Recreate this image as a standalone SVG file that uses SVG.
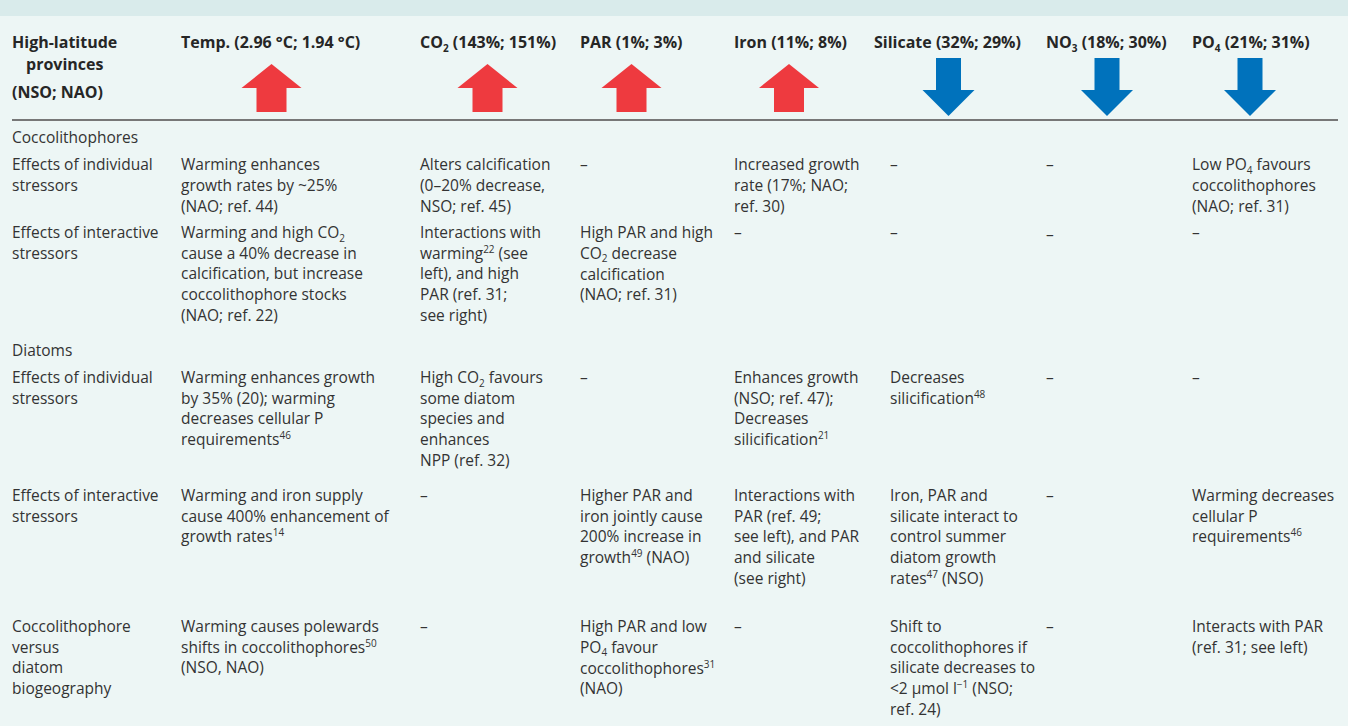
<svg xmlns="http://www.w3.org/2000/svg" width="1348" height="726" viewBox="0 0 1348 726">
<style>
text{font-family:"Open Sans","Liberation Sans",sans-serif;font-size:15.5px;fill:#333}
.h{font-weight:bold;fill:#262626;font-size:16px}
.s{font-size:10px}
.up{fill:#ee3a3f}
.dn{fill:#0072bc}
</style>
<rect x="0" y="0" width="1348" height="726" fill="#edf6f5"/>
<rect x="0" y="0" width="1348" height="16" fill="#d9ebeb"/>
<g id="header">
<text class="h" x="12" y="48">High-latitude</text>
<text class="h" x="26" y="70">provinces</text>
<text class="h" x="12" y="98">(NSO; NAO)</text>
<text class="h" x="181" y="48">Temp. (2.96 °C; 1.94 °C)</text>
<text class="h" x="420" y="48">CO<tspan class="s" dy="3.5">2</tspan><tspan dy="-3.5"> (143%; 151%)</tspan></text>
<text class="h" x="580" y="48">PAR (1%; 3%)</text>
<text class="h" x="734" y="48">Iron (11%; 8%)</text>
<text class="h" x="874" y="48">Silicate (32%; 29%)</text>
<text class="h" x="1046" y="48">NO<tspan class="s" dy="3.5">3</tspan><tspan dy="-3.5"> (18%; 30%)</tspan></text>
<text class="h" x="1192" y="48">PO<tspan class="s" dy="3.5">4</tspan><tspan dy="-3.5"> (21%; 31%)</tspan></text>
</g>
<g id="arrows">
<defs>
<path id="ua" d="M0,0 L30,24 L15,24 L15,48 L-15,48 L-15,24 L-30,24 Z"/>
<path id="da" d="M-12.5,0 L12.5,0 L12.5,32 L26,32 L0,58 L-26,32 L-12.5,32 Z"/>
</defs>
<use href="#ua" class="up" x="271.5" y="64"/>
<use href="#ua" class="up" x="487.5" y="64"/>
<use href="#ua" class="up" x="631.5" y="64"/>
<use href="#ua" class="up" x="789" y="64"/>
<use href="#da" class="dn" x="948.5" y="58"/>
<use href="#da" class="dn" x="1107" y="58"/>
<use href="#da" class="dn" x="1250" y="58"/>
</g>
<line x1="12" y1="120" x2="1338" y2="120" stroke="#777" stroke-width="2"/>

<g id="coccolithophores">
<text x="12" y="143">Coccolithophores</text>
<g id="c-individual">
<text x="12" y="170">Effects of individual</text><text x="12" y="191">stressors</text>
<text x="181" y="170">Warming enhances</text><text x="181" y="191">growth rates by ~25%</text><text x="181" y="212">(NAO; ref. 44)</text>
<text x="420" y="170">Alters calcification</text><text x="420" y="191">(0–20% decrease,</text><text x="420" y="212">NSO; ref. 45)</text>
<text x="580" y="170">–</text>
<text x="734" y="170">Increased growth</text><text x="734" y="191">rate (17%; NAO;</text><text x="734" y="212">ref. 30)</text>
<text x="890" y="170">–</text>
<text x="1046" y="170">–</text>
<text x="1192" y="170">Low PO<tspan class="s" dy="3.5">4</tspan><tspan dy="-3.5"> favours</tspan></text><text x="1192" y="191">coccolithophores</text><text x="1192" y="212">(NAO; ref. 31)</text>
</g>
<g id="c-interactive">
<text x="12" y="238">Effects of interactive</text><text x="12" y="259">stressors</text>
<text x="181" y="238">Warming and high CO<tspan class="s" dy="3.5">2</tspan></text><text x="181" y="259">cause a 40% decrease in</text><text x="181" y="279">calcification, but increase</text><text x="181" y="300">coccolithophore stocks</text><text x="181" y="321">(NAO; ref. 22)</text>
<text x="420" y="238">Interactions with</text><text x="420" y="259">warming<tspan class="s" dy="-6">22</tspan><tspan dy="6"> (see</tspan></text><text x="420" y="279">left), and high</text><text x="420" y="300">PAR (ref. 31;</text><text x="420" y="321">see right)</text>
<text x="580" y="238">High PAR and high</text><text x="580" y="259">CO<tspan class="s" dy="3">2</tspan><tspan dy="-3"> decrease</tspan></text><text x="580" y="280">calcification</text><text x="580" y="300">(NAO; ref. 31)</text>
<text x="734" y="238">–</text>
<text x="890" y="238">–</text>
<text x="1046" y="240">–</text>
<text x="1192" y="238">–</text>
</g>
</g>

<g id="diatoms">
<text x="12" y="356">Diatoms</text>
<g id="d-individual">
<text x="12" y="383">Effects of individual</text><text x="12" y="404">stressors</text>
<text x="181" y="383">Warming enhances growth</text><text x="181" y="404">by 35% (20); warming</text><text x="181" y="424">decreases cellular P</text><text x="181" y="445">requirements<tspan class="s" dy="-6">46</tspan></text>
<text x="420" y="383">High CO<tspan class="s" dy="3.5">2</tspan><tspan dy="-3.5"> favours</tspan></text><text x="420" y="404">some diatom</text><text x="420" y="424">species and</text><text x="420" y="445">enhances</text><text x="420" y="466">NPP (ref. 32)</text>
<text x="580" y="383">–</text>
<text x="734" y="383">Enhances growth</text><text x="734" y="404">(NSO; ref. 47);</text><text x="734" y="424">Decreases</text><text x="734" y="445">silicification<tspan class="s" dy="-6">21</tspan></text>
<text x="890" y="383">Decreases</text><text x="890" y="404">silicification<tspan class="s" dy="-6">48</tspan></text>
<text x="1046" y="383">–</text>
<text x="1192" y="383">–</text>
</g>
<g id="d-interactive">
<text x="12" y="501">Effects of interactive</text><text x="12" y="522">stressors</text>
<text x="181" y="501">Warming and iron supply</text><text x="181" y="522">cause 400% enhancement of</text><text x="181" y="542">growth rates<tspan class="s" dy="-6">14</tspan></text>
<text x="420" y="501">–</text>
<text x="580" y="501">Higher PAR and</text><text x="580" y="522">iron jointly cause</text><text x="580" y="542">200% increase in</text><text x="580" y="563">growth<tspan class="s" dy="-6">49</tspan><tspan dy="6"> (NAO)</tspan></text>
<text x="734" y="501">Interactions with</text><text x="734" y="522">PAR (ref. 49;</text><text x="734" y="542">see left), and PAR</text><text x="734" y="563">and silicate</text><text x="734" y="584">(see right)</text>
<text x="890" y="501">Iron, PAR and</text><text x="890" y="522">silicate interact to</text><text x="890" y="542">control summer</text><text x="890" y="563">diatom growth</text><text x="890" y="584">rates<tspan class="s" dy="-6">47</tspan><tspan dy="6"> (NSO)</tspan></text>
<text x="1046" y="501">–</text>
<text x="1192" y="501">Warming decreases</text><text x="1192" y="522">cellular P</text><text x="1192" y="542">requirements<tspan class="s" dy="-6">46</tspan></text>
</g>
</g>

<g id="biogeography">
<text x="12" y="632">Coccolithophore</text><text x="12" y="653">versus</text><text x="12" y="673">diatom</text><text x="12" y="694">biogeography</text>
<text x="181" y="632">Warming causes polewards</text><text x="181" y="653">shifts in coccolithophores<tspan class="s" dy="-6">50</tspan></text><text x="181" y="673">(NSO, NAO)</text>
<text x="420" y="632">–</text>
<text x="580" y="632">High PAR and low</text><text x="580" y="653">PO<tspan class="s" dy="3">4</tspan><tspan dy="-3"> favour</tspan></text><text x="580" y="674">coccolithophores<tspan class="s" dy="-6">31</tspan></text><text x="580" y="694">(NAO)</text>
<text x="734" y="632">–</text>
<text x="890" y="632">Shift to</text><text x="890" y="653">coccolithophores if</text><text x="890" y="673">silicate decreases to</text><text x="890" y="694">&lt;2 µmol l<tspan class="s" dy="-6">−1</tspan><tspan dy="6"> (NSO;</tspan></text><text x="890" y="715">ref. 24)</text>
<text x="1046" y="632">–</text>
<text x="1192" y="632">Interacts with PAR</text><text x="1192" y="653">(ref. 31; see left)</text>
</g>
</svg>
